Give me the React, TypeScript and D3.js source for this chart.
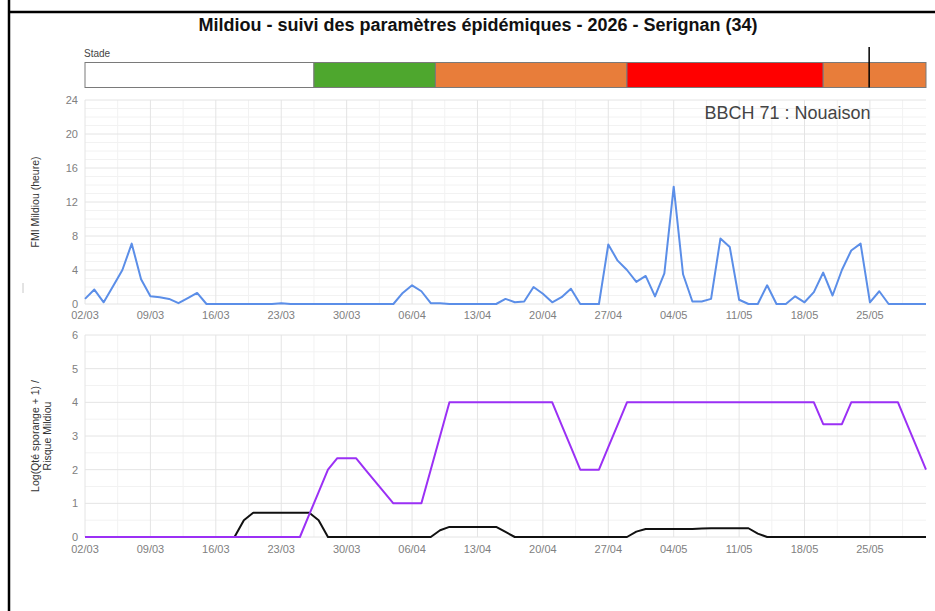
import React from "react";
import * as d3 from "d3";

// ---------- DATA ----------
const startDay = "2026-03-02";
const endDay = "2026-05-31";

const chartTitle = "Mildiou - suivi des paramètres épidémiques - 2026 - Serignan (34)";
const stageLabel = "Stade";
const bbchText = "BBCH 71 : Nouaison";
const fmiAxisTitle = "FMI Mildiou (heure)";
const riskAxisTitle = ["Log(Qté sporange + 1) /", "Risque Mildiou"];

// FMI Mildiou (heures), daily from 02/03 to 31/05
const fmiValues = [
  0.6, 1.7, 0.2, 2.1, 4.0, 7.1, 2.9,
  0.9, 0.8, 0.6, 0.1, 0.7, 1.3, 0,
  0, 0, 0, 0, 0, 0, 0,
  0.1, 0, 0, 0, 0, 0, 0,
  0, 0, 0, 0, 0, 0, 1.3,
  2.2, 1.5, 0.1, 0.1, 0, 0, 0,
  0, 0, 0, 0.6, 0.2, 0.3, 2.0,
  1.2, 0.2, 0.8, 1.8, 0, 0, 0,
  7.0, 5.1, 4.0, 2.6, 3.3, 0.9, 3.6,
  13.8, 3.5, 0.3, 0.3, 0.6, 7.7, 6.7,
  0.5, 0, 0, 2.2, 0, 0, 0.9,
  0.2, 1.4, 3.7, 1.0, 4.0, 6.3, 7.1,
  0.2, 1.5, 0, 0, 0, 0, 0,
];

// Log(Qté sporange + 1), daily
const sporangeValues = [
  0, 0, 0, 0, 0, 0, 0,
  0, 0, 0, 0, 0, 0, 0,
  0, 0, 0, 0.5, 0.72, 0.72, 0.72,
  0.72, 0.72, 0.72, 0.72, 0.5, 0, 0,
  0, 0, 0, 0, 0, 0, 0,
  0, 0, 0, 0.2, 0.3, 0.3, 0.3,
  0.3, 0.3, 0.3, 0.15, 0, 0, 0,
  0, 0, 0, 0, 0, 0, 0,
  0, 0, 0, 0.16, 0.24, 0.24, 0.24,
  0.24, 0.24, 0.24, 0.25, 0.26, 0.26, 0.26,
  0.26, 0.26, 0.1, 0, 0, 0, 0,
  0, 0, 0, 0, 0, 0, 0,
  0, 0, 0, 0, 0, 0, 0,
];

// Risque Mildiou, daily
const risqueValues = [
  0, 0, 0, 0, 0, 0, 0,
  0, 0, 0, 0, 0, 0, 0,
  0, 0, 0, 0, 0, 0, 0,
  0, 0, 0, 0.67, 1.33, 2.0, 2.34,
  2.34, 2.34, 2.0, 1.67, 1.33, 1.0, 1.0,
  1.0, 1.0, 2.0, 3.0, 4, 4, 4,
  4, 4, 4, 4, 4, 4, 4,
  4, 4, 3.33, 2.67, 2.0, 2.0, 2.0,
  2.67, 3.33, 4, 4, 4, 4, 4,
  4, 4, 4, 4, 4, 4, 4,
  4, 4, 4, 4, 4, 4, 4,
  4, 4, 3.35, 3.35, 3.35, 4, 4,
  4, 4, 4, 4, 3.33, 2.67, 2.0,
];

// Phenological stages bar
const stageStarts = ["2026-03-02T00:00", "2026-03-26T12:00", "2026-04-08T12:00", "2026-04-29T00:00", "2026-05-20T00:00"];
const stageEnds = ["2026-03-26T12:00", "2026-04-08T12:00", "2026-04-29T00:00", "2026-05-20T00:00", "2026-05-31T00:00"];
const stageColors = ["#ffffff", "#4ea72e", "#e87d3a", "#ff0000", "#e87d3a"];
const todayMarker = "2026-05-24T22:00";

const fmiTicks = [0, 4, 8, 12, 16, 20, 24];
const riskTicks = [0, 1, 2, 3, 4, 5, 6];

// ---------- LAYOUT ----------
const W = 935;
const H = 611;
const plotLeft = 85;
const plotRight = 926;
const top1 = 100, bottom1 = 304;
const top2 = 335, bottom2 = 537;
const barTop = 62.5, barBottom = 87.5;

const parseDay = d3.utcParse("%Y-%m-%d");
const parseDT = d3.utcParse("%Y-%m-%dT%H:%M");
const d0 = parseDay(startDay) as Date;
const d1 = parseDay(endDay) as Date;
const days = d3.utcDay.range(d0, d3.utcDay.offset(d1, 1));

const x = d3.scaleUtc().domain([d0, d1]).range([plotLeft, plotRight]);
const y1 = d3.scaleLinear().domain([0, 24]).range([bottom1, top1]);
const y2 = d3.scaleLinear().domain([0, 6]).range([bottom2, top2]);

const majorX = d3.utcMonday.range(d0, d3.utcDay.offset(d1, 1));
const minorX = majorX.map((t) => d3.utcHour.offset(t, 84)).filter((t) => t <= d1);
const fmt = d3.utcFormat("%d/%m");

const FONT = "'Liberation Sans', Arial, sans-serif";
const MAJOR = "#e4e4e4";
const MINOR = "#f2f2f2";
const TICK = "#808080";

function Grid({ y, top, bottom, ticks, minorStep }: any) {
  const [lo, hi] = y.domain();
  const minorY = d3.range(lo, hi + 1e-9, minorStep).filter((v: number) => !ticks.includes(v));
  return (
    <g>
      {minorY.map((v: number) => (
        <line key={"my" + v} x1={plotLeft} x2={plotRight} y1={y(v)} y2={y(v)} stroke={MINOR} strokeWidth={1} />
      ))}
      {minorX.map((t) => (
        <line key={"mx" + +t} x1={x(t)} x2={x(t)} y1={top} y2={bottom} stroke={MINOR} strokeWidth={1} />
      ))}
      {ticks.map((v: number) => (
        <line key={"y" + v} x1={plotLeft} x2={plotRight} y1={y(v)} y2={y(v)} stroke={MAJOR} strokeWidth={1} />
      ))}
      {majorX.map((t) => (
        <line key={"x" + +t} x1={x(t)} x2={x(t)} y1={top} y2={bottom} stroke={MAJOR} strokeWidth={1} />
      ))}
      {ticks.map((v: number) => (
        <text key={"yl" + v} x={plotLeft - 7} y={y(v)} dy="0.35em" textAnchor="end" fontSize={11} fill={TICK} fontFamily={FONT}>
          {v}
        </text>
      ))}
    </g>
  );
}

function XLabels({ yPos }: any) {
  return (
    <g>
      {majorX.map((t) => (
        <text key={"xl" + +t} x={x(t)} y={yPos} dy="0.35em" textAnchor="middle" fontSize={11} fill={TICK} fontFamily={FONT}>
          {fmt(t)}
        </text>
      ))}
    </g>
  );
}

export default function App() {
  const line1 = d3
    .line<number>()
    .x((_, i) => x(days[i]))
    .y((v) => y1(v));
  const line2 = d3
    .line<number>()
    .x((_, i) => x(days[i]))
    .y((v) => y2(v));

  return (
    <svg
      width={W}
      height={H}
      viewBox={`0 0 ${W} ${H}`}
      style={{ position: "absolute", left: 0, top: 0, background: "#fff" }}
    >
      <rect x={0} y={0} width={W} height={H} fill="#fff" />
      {/* frame */}
      <line x1={9} x2={9} y1={0} y2={H} stroke="#000" strokeWidth={2.5} />
      <line x1={8} x2={W} y1={12} y2={12} stroke="#000" strokeWidth={2.5} />
      <line x1={23} x2={23} y1={283} y2={293} stroke="#c8c8c8" strokeWidth={1} />

      {/* title */}
      <text x={478} y={25} dy="0.35em" textAnchor="middle" fontSize={18} fontWeight="bold" fill="#111" fontFamily={FONT}>
        {chartTitle}
      </text>

      {/* stage bar */}
      <text x={84} y={53} dy="0.35em" fontSize={10} fill="#444" fontFamily={FONT}>
        {stageLabel}
      </text>
      {stageStarts.map((s, i) => {
        const a = x(parseDT(s) as Date);
        const b = x(parseDT(stageEnds[i]) as Date);
        return (
          <rect key={"st" + i} x={a} y={barTop} width={b - a} height={barBottom - barTop} fill={stageColors[i]} stroke="#7a7a7a" strokeWidth={1} />
        );
      })}
      <line
        x1={x(parseDT(todayMarker) as Date)}
        x2={x(parseDT(todayMarker) as Date)}
        y1={47}
        y2={barBottom}
        stroke="#000"
        strokeWidth={1.5}
      />

      {/* top chart */}
      <Grid y={y1} top={top1} bottom={bottom1} ticks={fmiTicks} minorStep={1} />
      <XLabels yPos={bottom1 + 11} />
      <path d={line1(fmiValues) || ""} fill="none" stroke="#5b8ee8" strokeWidth={2} strokeLinejoin="round" />
      <text x={787.5} y={113} dy="0.35em" textAnchor="middle" fontSize={18} fill="#444" fontFamily={FONT}>
        {bbchText}
      </text>
      <text
        transform={`translate(35, ${(top1 + bottom1) / 2}) rotate(-90)`}
        textAnchor="middle"
        dy="0.35em"
        fontSize={10.5}
        fill="#333"
        fontFamily={FONT}
      >
        {fmiAxisTitle}
      </text>

      {/* bottom chart */}
      <Grid y={y2} top={top2} bottom={bottom2} ticks={riskTicks} minorStep={0.5} />
      <XLabels yPos={bottom2 + 12} />
      <path d={line2(sporangeValues) || ""} fill="none" stroke="#111" strokeWidth={2} strokeLinejoin="round" />
      <path d={line2(risqueValues) || ""} fill="none" stroke="#9b30f5" strokeWidth={2} strokeLinejoin="round" />
      {riskAxisTitle.map((t, i) => (
        <text
          key={"rt" + i}
          transform={`translate(${35 + i * 12}, ${(top2 + bottom2) / 2}) rotate(-90)`}
          textAnchor="middle"
          dy="0.35em"
          fontSize={10.5}
          fill="#333"
          fontFamily={FONT}
        >
          {t}
        </text>
      ))}
    </svg>
  );
}
